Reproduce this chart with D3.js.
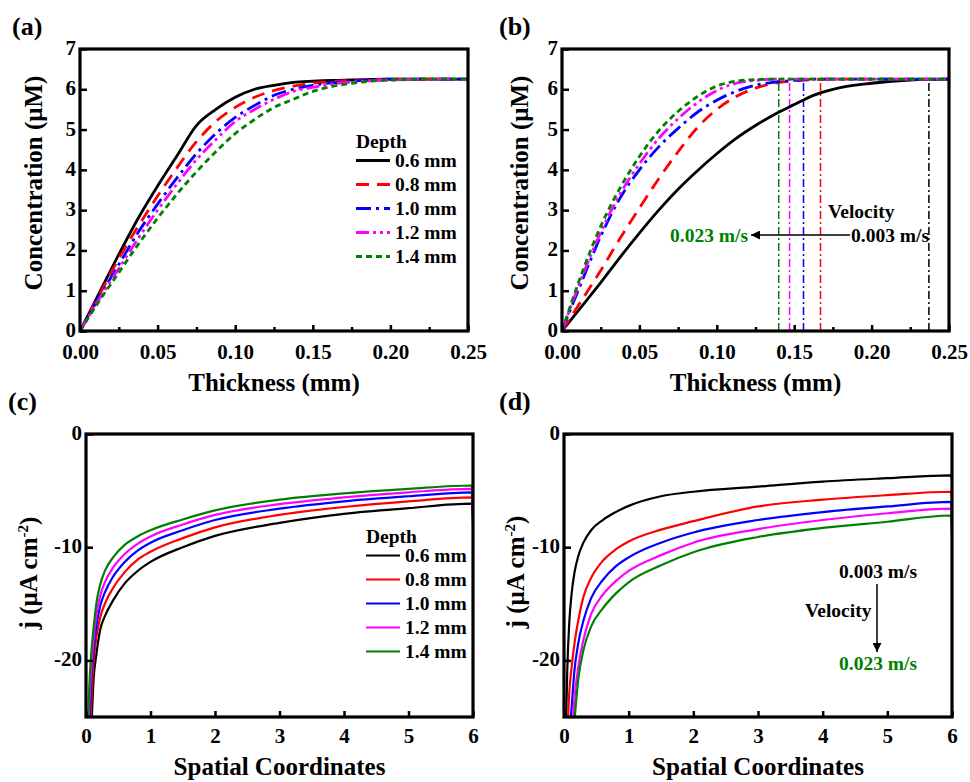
<!DOCTYPE html>
<html>
<head>
<meta charset="utf-8">
<script src="https://cdn.jsdelivr.net/npm/d3@7"></script>
<style>
body { margin: 0; background: #fff; }
svg { display: block; font-family: "Liberation Serif", "Times New Roman", serif; font-weight: bold; }
</style>
</head>
<body>
<svg id="fig" width="970" height="782"></svg>
<script>
// ---------- data ----------
var depthLabels = ['0.6 mm', '0.8 mm', '1.0 mm', '1.2 mm', '1.4 mm'];
var seriesColors = ['#000000', '#ff0000', '#0000ff', '#ff00ff', '#008000'];

// (a), (b): concentration vs thickness
var thickness = [0, 0.0125, 0.025, 0.0375, 0.05, 0.0625, 0.075, 0.0875, 0.1, 0.1125, 0.125, 0.1375, 0.15, 0.1625, 0.175, 0.2, 0.225, 0.25];

var concDepth06 = [0, 0.95, 1.9, 2.8, 3.6, 4.35, 5.1, 5.5, 5.8, 6.0, 6.1, 6.17, 6.2, 6.22, 6.23, 6.25, 6.25, 6.25];
var concDepth08 = [0, 0.9, 1.8, 2.6, 3.35, 4.05, 4.7, 5.2, 5.55, 5.8, 5.97, 6.08, 6.15, 6.19, 6.22, 6.25, 6.25, 6.25];
var concDepth10 = [0, 0.85, 1.65, 2.45, 3.15, 3.8, 4.4, 4.9, 5.3, 5.6, 5.85, 6.0, 6.1, 6.16, 6.2, 6.25, 6.25, 6.25];
var concDepth12 = [0, 0.8, 1.55, 2.3, 3.0, 3.65, 4.25, 4.75, 5.2, 5.5, 5.75, 5.95, 6.05, 6.13, 6.18, 6.23, 6.25, 6.25];
var concDepth14 = [0, 0.75, 1.45, 2.15, 2.8, 3.4, 3.95, 4.45, 4.9, 5.25, 5.55, 5.75, 5.95, 6.07, 6.15, 6.23, 6.25, 6.25];

var concVel1 = [0, 0.6, 1.2, 1.83, 2.43, 3.0, 3.52, 3.98, 4.4, 4.78, 5.1, 5.38, 5.62, 5.85, 6.0, 6.15, 6.23, 6.25];
var concVel2 = [0, 0.75, 1.5, 2.3, 3.05, 3.78, 4.45, 5.05, 5.5, 5.82, 6.03, 6.15, 6.21, 6.24, 6.25, 6.25, 6.25, 6.25];
var concVel3 = [0, 1.2, 2.35, 3.3, 4.0, 4.57, 5.03, 5.43, 5.73, 5.95, 6.1, 6.18, 6.22, 6.25, 6.25, 6.25, 6.25, 6.25];
var concVel4 = [0, 1.3, 2.45, 3.4, 4.15, 4.78, 5.27, 5.67, 5.97, 6.15, 6.22, 6.25, 6.25, 6.25, 6.25, 6.25, 6.25, 6.25];
var concVel5 = [0, 1.4, 2.6, 3.55, 4.33, 4.97, 5.45, 5.82, 6.08, 6.2, 6.24, 6.25, 6.25, 6.25, 6.25, 6.25, 6.25, 6.25];

// boundary-layer thickness markers in (b)
var velMarkThickness = [0.237, 0.167, 0.156, 0.147, 0.140];
var velMarkTop = 6.25;

// (c), (d): current density vs spatial coordinate (null = below -25)
var spatial = [0.03, 0.05, 0.08, 0.12, 0.16, 0.22, 0.3, 0.42, 0.6, 0.8, 1.0, 1.5, 2, 3, 4, 5, 5.98, 6.0];

var jDepth06 = [null, null, -26.5, -21.5, -19.5, -17.3, -16.0, -14.7, -13.2, -12.1, -11.3, -10.0, -9.0, -7.85, -7.05, -6.55, -6.15, -7.0];
var jDepth08 = [null, -28, -24, -20.0, -18.0, -16.2, -14.9, -13.6, -12.2, -11.1, -10.4, -9.2, -8.25, -7.15, -6.45, -5.95, -5.6, -8.0];
var jDepth10 = [null, -26, -22, -19.0, -17.0, -15.2, -13.9, -12.6, -11.3, -10.3, -9.6, -8.5, -7.6, -6.6, -5.95, -5.5, -5.15, -7.5];
var jDepth12 = [-28, -24, -21, -18.0, -16.0, -14.3, -13.0, -11.8, -10.6, -9.7, -9.05, -8.0, -7.15, -6.2, -5.6, -5.15, -4.85, -6.8];
var jDepth14 = [-26, -22.5, -19.5, -17.0, -15.0, -13.3, -12.0, -10.9, -9.8, -9.05, -8.5, -7.55, -6.75, -5.8, -5.25, -4.85, -4.55, -6.0];

var jVel1 = [-26, -21, -16.8, -14.0, -12.3, -10.8, -9.6, -8.5, -7.6, -6.9, -6.35, -5.5, -5.1, -4.65, -4.2, -3.9, -3.65, -4.0];
var jVel2 = [null, -27, -23, -20.5, -18.6, -16.5, -14.4, -12.7, -11.2, -10.2, -9.5, -8.45, -7.7, -6.4, -5.8, -5.4, -5.1, -5.8];
var jVel3 = [null, null, -27, -24, -21.0, -18.5, -16.5, -14.5, -12.9, -11.7, -10.9, -9.6, -8.7, -7.6, -6.9, -6.4, -6.0, -7.0];
var jVel4 = [null, null, null, -27, -23.5, -20.6, -18.2, -15.9, -14.2, -13.0, -12.1, -10.7, -9.6, -8.4, -7.6, -7.0, -6.6, -7.5];
var jVel5 = [null, null, null, null, -25.5, -21.7, -19.1, -17.0, -15.4, -14.1, -13.1, -11.6, -10.45, -9.1, -8.3, -7.75, -7.2, -9.0];

var thickTicks = [0, 0.05, 0.1, 0.15, 0.2, 0.25];
var thickMinor = [0.025, 0.075, 0.125, 0.175, 0.225];
var concTicks = [0, 1, 2, 3, 4, 5, 6, 7];
var spatialTicks = [0, 1, 2, 3, 4, 5, 6];
var jTicks = [0, -10, -20];

// dash styles for (a)/(b): solid, dash, dash-dot, dash-dot-dot, short dash
var dashStyles = [null, '13,8', '15,5,3,5', '13,4,3,4,3,4', '6,4'];

// plain hyphen minus like the original figure
function intLabel(d){ return String(d); }

// ---------- drawing ----------
var svg = d3.select('#fig');
svg.append('rect').attr('width', 970).attr('height', 782).attr('fill', '#fff');
var defs = svg.append('defs');

defs.append('marker')
    .attr('id', 'arrowHead')
    .attr('viewBox', '0 0 10 10')
    .attr('refX', 10).attr('refY', 5)
    .attr('markerUnits', 'userSpaceOnUse')
    .attr('markerWidth', 12).attr('markerHeight', 9)
    .attr('orient', 'auto')
  .append('path')
    .attr('d', 'M0,0L10,5L0,10Z')
    .attr('fill', '#000');

function makePanel(opt){
  var x = d3.scaleLinear().domain(opt.xDomain).range([opt.left, opt.right]);
  var y = d3.scaleLinear().domain(opt.yDomain).range([opt.bottom, opt.top]);
  var g = svg.append('g');

  defs.append('clipPath').attr('id', 'clip-' + opt.id)
    .append('rect')
    .attr('x', opt.left).attr('y', opt.top)
    .attr('width', opt.right - opt.left).attr('height', opt.bottom - opt.top);

  var plot = g.append('g').attr('clip-path', 'url(#clip-' + opt.id + ')');

  // minor x ticks
  if (opt.xMinor) {
    g.append('g')
      .attr('transform', 'translate(0,' + opt.bottom + ')')
      .call(d3.axisBottom(x).tickValues(opt.xMinor).tickSizeInner(-4).tickSizeOuter(0).tickFormat(''))
      .call(styleAxis);
  }
  g.append('g')
    .attr('transform', 'translate(0,' + opt.bottom + ')')
    .call(d3.axisBottom(x).tickValues(opt.xTicks).tickSizeInner(-6).tickSizeOuter(0)
            .tickPadding(opt.xPad).tickFormat(opt.xFormat))
    .call(styleAxis);
  var ya = g.append('g')
    .attr('transform', 'translate(' + opt.left + ',0)')
    .call(d3.axisLeft(y).tickValues(opt.yTicks).tickSizeInner(-7).tickSizeOuter(0)
            .tickPadding(4).tickFormat(intLabel))
    .call(styleAxis);
  ya.selectAll('.tick text').attr('dy', '0.26em');

  // panel label
  svg.append('text').attr('x', opt.labelX).attr('y', opt.labelY)
    .attr('font-size', 26).text(opt.label);

  // axis titles
  svg.append('text')
    .attr('x', (opt.left + opt.right) / 2).attr('y', opt.xTitleY)
    .attr('text-anchor', 'middle').attr('font-size', 25)
    .text(opt.xTitle);

  var yt = svg.append('text')
    .attr('transform', 'translate(' + opt.yTitleX + ',' + opt.yTitleY + ') rotate(-90)')
    .attr('text-anchor', 'middle').attr('font-size', 25);
  opt.yTitle(yt);

  return {g: g, plot: plot, x: x, y: y, opt: opt};
}

function styleAxis(sel){
  sel.attr('font-family', null).attr('font-size', null);
  sel.select('.domain').remove();
  sel.selectAll('.tick line').attr('stroke', '#000').attr('stroke-width', 2.5);
  sel.selectAll('.tick text').attr('font-size', 21).attr('fill', '#000');
}

function drawFrame(p){
  var o = p.opt;
  p.g.append('rect')
    .attr('x', o.left).attr('y', o.top)
    .attr('width', o.right - o.left).attr('height', o.bottom - o.top)
    .attr('fill', 'none').attr('stroke', '#000').attr('stroke-width', 3.2);
}

function drawSeries(p, xs, list, width, dashed){
  var line = d3.line()
    .defined(function(d){ return d[1] !== null; })
    .x(function(d){ return p.x(d[0]); })
    .y(function(d){ return p.y(d[1]); })
    .curve(d3.curveMonotoneX);
  list.forEach(function(vals, i){
    var pts = xs.map(function(xv, k){ return [xv, vals[k]]; });
    p.plot.append('path')
      .attr('d', line(pts))
      .attr('fill', 'none')
      .attr('stroke', seriesColors[i])
      .attr('stroke-width', width)
      .attr('stroke-dasharray', dashed ? dashStyles[i] : null);
  });
}

function drawLegend(x0, y0, width, dashed){
  svg.append('text').attr('x', x0).attr('y', y0).attr('font-size', 19.5).text('Depth');
  depthLabels.forEach(function(lab, i){
    var by = y0 + 19 + i * 24;
    svg.append('line')
      .attr('x1', x0).attr('x2', x0 + 34)
      .attr('y1', by - 6.5).attr('y2', by - 6.5)
      .attr('stroke', seriesColors[i]).attr('stroke-width', width)
      .attr('stroke-dasharray', dashed ? dashStyles[i] : null);
    svg.append('text').attr('x', x0 + 39).attr('y', by).attr('font-size', 19.5).text(lab);
  });
}

function concTitle(t){ t.text('Concentration (\u03bcM)'); }
function jTitle(t){
  t.append('tspan').text('j (\u03bcA cm');
  t.append('tspan').attr('dy', -9).attr('font-size', 15).text('-2');
  t.append('tspan').attr('dy', 9).text(')');
}

// ---- (a)
var pa = makePanel({
  id: 'a', left: 80, right: 468, top: 49, bottom: 331,
  xDomain: [0, 0.25], yDomain: [0, 7],
  xTicks: thickTicks, xMinor: thickMinor, yTicks: concTicks,
  xFormat: d3.format('.2f'), xPad: 13,
  label: '(a)', labelX: 12, labelY: 35,
  xTitle: 'Thickness (mm)', xTitleY: 391,
  yTitle: concTitle, yTitleX: 42, yTitleY: 183
});
drawSeries(pa, thickness, [concDepth06, concDepth08, concDepth10, concDepth12, concDepth14], 2.8, true);
drawFrame(pa);
drawLegend(356, 148, 2.8, true);

// ---- (b)
var pb = makePanel({
  id: 'b', left: 562, right: 949, top: 49, bottom: 331,
  xDomain: [0, 0.25], yDomain: [0, 7],
  xTicks: thickTicks, xMinor: thickMinor, yTicks: concTicks,
  xFormat: d3.format('.2f'), xPad: 13,
  label: '(b)', labelX: 499, labelY: 35,
  xTitle: 'Thickness (mm)', xTitleY: 391,
  yTitle: concTitle, yTitleX: 528, yTitleY: 183
});
pb.plot.selectAll('line.mark')
  .data(velMarkThickness)
  .enter().append('line')
  .attr('class', 'mark')
  .attr('x1', function(d){ return pb.x(d); })
  .attr('x2', function(d){ return pb.x(d); })
  .attr('y1', pb.y(0)).attr('y2', pb.y(velMarkTop))
  .attr('stroke', function(d, i){ return seriesColors[i]; })
  .attr('stroke-width', 1.5)
  .attr('stroke-dasharray', '8,3,2,3');
drawSeries(pb, thickness, [concVel1, concVel2, concVel3, concVel4, concVel5], 2.8, true);
drawFrame(pb);

svg.append('text').attr('x', 828).attr('y', 218).attr('font-size', 19.5).text('Velocity');
svg.append('text').attr('x', 851).attr('y', 242).attr('font-size', 19.5).text('0.003 m/s');
svg.append('text').attr('x', 670).attr('y', 242).attr('font-size', 19.5).attr('fill', '#008000').text('0.023 m/s');
svg.append('line').attr('x1', 850).attr('y1', 235).attr('x2', 751).attr('y2', 235)
  .attr('stroke', '#000').attr('stroke-width', 1.5).attr('marker-end', 'url(#arrowHead)');

// ---- (c)
var pc = makePanel({
  id: 'c', left: 86, right: 473, top: 434, bottom: 717,
  xDomain: [0, 6], yDomain: [-25, 0],
  xTicks: spatialTicks, xMinor: null, yTicks: jTicks,
  xFormat: intLabel, xPad: 11,
  label: '(c)', labelX: 8, labelY: 410,
  xTitle: 'Spatial Coordinates', xTitleY: 775,
  yTitle: jTitle, yTitleX: 37, yTitleY: 573
});
drawSeries(pc, spatial, [jDepth06, jDepth08, jDepth10, jDepth12, jDepth14], 2.2, false);
drawFrame(pc);
drawLegend(366, 543, 2.2, false);

// ---- (d)
var pd = makePanel({
  id: 'd', left: 564, right: 952, top: 434, bottom: 717,
  xDomain: [0, 6], yDomain: [-25, 0],
  xTicks: spatialTicks, xMinor: null, yTicks: jTicks,
  xFormat: intLabel, xPad: 11,
  label: '(d)', labelX: 499, labelY: 410,
  xTitle: 'Spatial Coordinates', xTitleY: 775,
  yTitle: jTitle, yTitleX: 524, yTitleY: 572
});
drawSeries(pd, spatial, [jVel1, jVel2, jVel3, jVel4, jVel5], 2.2, false);
drawFrame(pd);

svg.append('text').attr('x', 839).attr('y', 578).attr('font-size', 19.5).text('0.003 m/s');
svg.append('text').attr('x', 805).attr('y', 617).attr('font-size', 19.5).text('Velocity');
svg.append('text').attr('x', 839).attr('y', 670).attr('font-size', 19.5).attr('fill', '#008000').text('0.023 m/s');
svg.append('line').attr('x1', 877).attr('y1', 584).attr('x2', 877).attr('y2', 652)
  .attr('stroke', '#000').attr('stroke-width', 1.5).attr('marker-end', 'url(#arrowHead)');
</script>
</body>
</html>
